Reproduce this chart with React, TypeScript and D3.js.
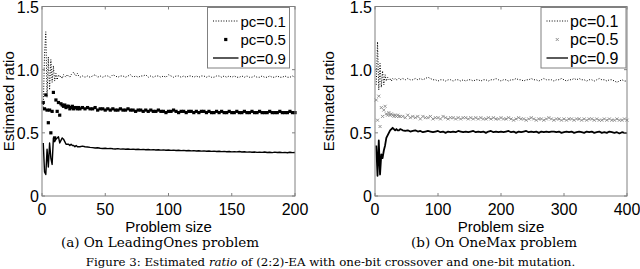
import React from "react";
import * as d3 from "d3";

// problem sizes where the estimate was recorded
const LO_SIZES = [...d3.range(1, 31), ...d3.range(32, 201, 2)];
const OM_SIZES = [...d3.range(2, 42, 2), ...d3.range(44, 401, 4)];

// (a) LeadingOnes
const LO_P01 = [
  0.70, 1.12, 1.30, 0.78, 1.10, 0.84, 1.08, 0.90, 1.03, 0.91,
  0.97, 0.92, 0.96, 0.94, 0.95, 0.93, 0.96, 0.95, 0.94, 0.96,
  0.95, 0.94, 0.96, 0.97, 0.98, 0.96, 0.95, 0.97, 0.95, 0.94,
  0.95, 0.94, 0.95, 0.94, 0.95, 0.96, 0.94, 0.95, 0.94, 0.95,
  0.95, 0.94, 0.96, 0.95, 0.94, 0.95, 0.95, 0.94, 0.95, 0.96,
  0.94, 0.95, 0.94, 0.95, 0.95, 0.96, 0.94, 0.95, 0.94, 0.95,
  0.95, 0.94, 0.95, 0.94, 0.96, 0.95, 0.94, 0.95, 0.95, 0.94,
  0.95, 0.94, 0.95, 0.95, 0.94, 0.95, 0.94, 0.95, 0.95, 0.94,
  0.95, 0.94, 0.94, 0.95, 0.95, 0.94, 0.95, 0.94, 0.95, 0.94,
  0.95, 0.94, 0.94, 0.95, 0.94, 0.95, 0.94, 0.94, 0.95, 0.94,
  0.94, 0.95, 0.94, 0.94, 0.95, 0.94, 0.94, 0.95, 0.94, 0.94,
  0.95, 0.94, 0.94, 0.95, 0.94,
];
const LO_P05 = [
  0.74, 0.69, 0.80, 0.68, 0.58, 0.68, 0.50, 0.67, 0.82, 0.46,
  0.76, 0.67, 0.74, 0.64, 0.73, 0.72, 0.71, 0.72, 0.70, 0.71,
  0.71, 0.69, 0.70, 0.71, 0.69, 0.70, 0.70, 0.69, 0.70, 0.69,
  0.70, 0.69, 0.70, 0.69, 0.69, 0.70, 0.68, 0.69, 0.69, 0.68,
  0.69, 0.68, 0.69, 0.68, 0.68, 0.69, 0.68, 0.68, 0.69, 0.68,
  0.68, 0.67, 0.68, 0.68, 0.67, 0.68, 0.67, 0.68, 0.67, 0.67,
  0.68, 0.67, 0.67, 0.66, 0.67, 0.67, 0.68, 0.67, 0.66, 0.67,
  0.67, 0.66, 0.67, 0.67, 0.66, 0.67, 0.66, 0.67, 0.67, 0.66,
  0.67, 0.66, 0.66, 0.67, 0.66, 0.67, 0.66, 0.66, 0.67, 0.66,
  0.66, 0.67, 0.66, 0.66, 0.67, 0.66, 0.66, 0.67, 0.66, 0.66,
  0.67, 0.66, 0.66, 0.66, 0.67, 0.66, 0.66, 0.66, 0.67, 0.66,
  0.66, 0.66, 0.67, 0.66, 0.66,
];
const LO_P09 = [
  0.42, 0.19, 0.17, 0.37, 0.23, 0.42, 0.30, 0.25, 0.46, 0.43,
  0.45, 0.46, 0.47, 0.42, 0.44, 0.46, 0.45, 0.43, 0.41, 0.41,
  0.41, 0.40, 0.41, 0.40, 0.40, 0.39, 0.40, 0.39, 0.39, 0.39,
  0.395, 0.39, 0.388, 0.385, 0.383, 0.38, 0.382, 0.378, 0.376, 0.378,
  0.375, 0.377, 0.374, 0.372, 0.375, 0.371, 0.373, 0.37, 0.372, 0.369,
  0.371, 0.368, 0.37, 0.367, 0.369, 0.366, 0.368, 0.365, 0.367, 0.364,
  0.366, 0.363, 0.365, 0.362, 0.364, 0.361, 0.363, 0.36, 0.362, 0.359,
  0.361, 0.358, 0.36, 0.357, 0.359, 0.356, 0.358, 0.355, 0.357, 0.354,
  0.356, 0.353, 0.355, 0.352, 0.354, 0.351, 0.353, 0.35, 0.352, 0.349,
  0.351, 0.349, 0.352, 0.348, 0.35, 0.347, 0.349, 0.346, 0.348, 0.345,
  0.347, 0.345, 0.348, 0.344, 0.346, 0.343, 0.347, 0.344, 0.346, 0.343,
  0.345, 0.342, 0.346, 0.343, 0.344,
];

// (b) OneMax
const OM_P01 = [
  0.88, 1.22, 0.84, 1.05, 0.86, 0.99, 0.88, 0.96, 0.91, 0.94,
  0.92, 0.93, 0.91, 0.93, 0.92, 0.93, 0.92, 0.92, 0.93, 0.92,
  0.93, 0.92, 0.93, 0.92, 0.92, 0.93, 0.92, 0.93, 0.92, 0.93,
  0.94, 0.93, 0.92, 0.92, 0.91, 0.92, 0.92, 0.91, 0.92, 0.92,
  0.91, 0.92, 0.92, 0.91, 0.92, 0.91, 0.92, 0.92, 0.91, 0.92,
  0.92, 0.91, 0.92, 0.92, 0.91, 0.92, 0.92, 0.93, 0.92, 0.91,
  0.92, 0.92, 0.91, 0.92, 0.92, 0.93, 0.92, 0.92, 0.91, 0.92,
  0.92, 0.93, 0.92, 0.92, 0.91, 0.92, 0.93, 0.92, 0.92, 0.92,
  0.91, 0.92, 0.92, 0.93, 0.92, 0.91, 0.92, 0.92, 0.93, 0.92,
  0.93, 0.92, 0.92, 0.91, 0.92, 0.92, 0.91, 0.92, 0.93, 0.92,
  0.92, 0.91, 0.92, 0.92, 0.91, 0.90, 0.91, 0.92, 0.91, 0.91,
];
const OM_P05 = [
  0.76, 0.60, 0.79, 0.55, 0.70, 0.63, 0.68, 0.71, 0.65, 0.64,
  0.66, 0.64, 0.65, 0.64, 0.63, 0.64, 0.63, 0.64, 0.63, 0.63,
  0.63, 0.62, 0.64, 0.62, 0.63, 0.62, 0.63, 0.61, 0.63, 0.62,
  0.62, 0.63, 0.61, 0.62, 0.62, 0.61, 0.63, 0.62, 0.61, 0.62,
  0.62, 0.61, 0.62, 0.61, 0.62, 0.62, 0.61, 0.62, 0.61, 0.62,
  0.61, 0.62, 0.61, 0.61, 0.62, 0.61, 0.62, 0.61, 0.61, 0.62,
  0.61, 0.61, 0.62, 0.61, 0.60, 0.61, 0.62, 0.61, 0.61, 0.60,
  0.61, 0.62, 0.61, 0.60, 0.61, 0.61, 0.60, 0.61, 0.62, 0.61,
  0.60, 0.61, 0.61, 0.60, 0.61, 0.60, 0.61, 0.61, 0.60, 0.61,
  0.61, 0.60, 0.61, 0.60, 0.61, 0.61, 0.60, 0.61, 0.60, 0.60,
  0.61, 0.60, 0.61, 0.60, 0.60, 0.61, 0.60, 0.60, 0.61, 0.60,
];
const OM_P09 = [
  0.40, 0.16, 0.44, 0.17, 0.33, 0.30, 0.36, 0.40, 0.46, 0.48,
  0.50, 0.52, 0.53, 0.54, 0.53, 0.52, 0.53, 0.52, 0.52, 0.53,
  0.52, 0.515, 0.52, 0.51, 0.515, 0.52, 0.51, 0.515, 0.505, 0.51,
  0.515, 0.51, 0.505, 0.51, 0.515, 0.505, 0.51, 0.50, 0.51, 0.505,
  0.51, 0.505, 0.515, 0.51, 0.505, 0.51, 0.505, 0.51, 0.515, 0.505,
  0.51, 0.505, 0.51, 0.50, 0.51, 0.515, 0.505, 0.51, 0.505, 0.51,
  0.505, 0.51, 0.515, 0.505, 0.51, 0.50, 0.51, 0.505, 0.51, 0.515,
  0.505, 0.51, 0.505, 0.51, 0.50, 0.51, 0.505, 0.51, 0.505, 0.51,
  0.51, 0.505, 0.51, 0.50, 0.505, 0.51, 0.505, 0.51, 0.50, 0.505,
  0.51, 0.505, 0.50, 0.51, 0.505, 0.51, 0.50, 0.505, 0.51, 0.50,
  0.505, 0.50, 0.51, 0.505, 0.50, 0.505, 0.495, 0.505, 0.50, 0.50,
];

const LO_XTICKS = [0, 50, 100, 150, 200];
const OM_XTICKS = [0, 100, 200, 300, 400];
const Y_TICKS = [0, 0.5, 1.0, 1.5];
const Y_TICK_LABELS = ["0", "0.5", "1.0", "1.5"];
const LEGEND_LABELS = ["pc=0.1", "pc=0.5", "pc=0.9"];

const W = 640;
const H = 269;
const TOP = 6.5;
const BOTTOM = 196;
const AXIS_COLOR = "#808080";
const SANS = "'Liberation Sans', Arial, Helvetica, sans-serif";
const SERIF = "'DejaVu Serif', serif";

interface PanelProps {
  left: number;
  right: number;
  xMax: number;
  xTicks: number[];
  sizes: number[];
  p01: number[];
  p05: number[];
  p09: number[];
  marker: "square" | "cross";
  caption: string;
  captionX: number;
  legend: { x0: number; x1: number; lineFrom: number; lineTo: number; textX: number; fontSize: number };
  yLabelX: number;
  p09Width: number;
}

const Panel: React.FC<PanelProps> = (p) => {
  const x = d3.scaleLinear().domain([0, p.xMax]).range([p.left, p.right]);
  const y = d3.scaleLinear().domain([0, 1.5]).range([BOTTOM, TOP]);
  const line = d3
    .line<number>()
    .x((_, i) => x(p.sizes[i]))
    .y((v) => y(v));
  const tk = 3;
  const legRows = [21, 39.5, 58];
  const markerColor = p.marker === "square" ? "#000" : "#888";

  const drawMarker = (cx: number, cy: number, key: React.Key) =>
    p.marker === "square" ? (
      <rect key={key} x={cx - 1.6} y={cy - 1.6} width={3.2} height={3.2} fill="#000" />
    ) : (
      <path
        key={key}
        d={`M${cx - 1.5},${cy - 1.5}L${cx + 1.5},${cy + 1.5}M${cx - 1.5},${cy + 1.5}L${cx + 1.5},${cy - 1.5}`}
        stroke={markerColor}
        strokeWidth={0.9}
        fill="none"
      />
    );

  return (
    <g>
      {/* data */}
      <path d={line(p.p01) ?? ""} fill="none" stroke="#000" strokeWidth={1} strokeDasharray="1 1.6" />
      <g>{p.p05.map((v, i) => drawMarker(x(p.sizes[i]), y(v), i))}</g>
      <path d={line(p.p09) ?? ""} fill="none" stroke="#000" strokeWidth={p.p09Width} strokeLinejoin="round" />

      {/* axes box + inward ticks */}
      <rect x={p.left} y={TOP} width={p.right - p.left} height={BOTTOM - TOP} fill="none" stroke={AXIS_COLOR} strokeWidth={1} />
      {p.xTicks.map((t) => (
        <g key={`x${t}`}>
          <line x1={x(t)} x2={x(t)} y1={BOTTOM} y2={BOTTOM - tk} stroke={AXIS_COLOR} />
          <line x1={x(t)} x2={x(t)} y1={TOP} y2={TOP + tk} stroke={AXIS_COLOR} />
          <text x={x(t)} y={BOTTOM + 18.5} textAnchor="middle" fontSize={16} fontFamily={SANS}>
            {t}
          </text>
        </g>
      ))}
      {Y_TICKS.map((t, i) => (
        <g key={`y${t}`}>
          <line x1={p.left} x2={p.left + tk} y1={y(t)} y2={y(t)} stroke={AXIS_COLOR} />
          <line x1={p.right} x2={p.right - tk} y1={y(t)} y2={y(t)} stroke={AXIS_COLOR} />
          <text x={p.left - 3} y={y(t) + 6} textAnchor="end" fontSize={16} fontFamily={SANS}>
            {Y_TICK_LABELS[i]}
          </text>
        </g>
      ))}

      {/* legend */}
      <rect
        x={p.legend.x0}
        y={TOP + 1}
        width={p.legend.x1 - p.legend.x0}
        height={68 - TOP - 1}
        fill="#fff"
        stroke={AXIS_COLOR}
      />
      <line x1={p.legend.lineFrom} x2={p.legend.lineTo} y1={legRows[0]} y2={legRows[0]} stroke="#000" strokeDasharray="1 1.6" />
      {drawMarker((p.legend.lineFrom + p.legend.lineTo) / 2, legRows[1], "leg")}
      <line x1={p.legend.lineFrom} x2={p.legend.lineTo} y1={legRows[2]} y2={legRows[2]} stroke="#000" strokeWidth={1.3} />
      {LEGEND_LABELS.map((l, i) => (
        <text key={l} x={p.legend.textX} y={legRows[i] + 5.5} fontSize={p.legend.fontSize} fontFamily={SANS}>
          {l}
        </text>
      ))}

      {/* labels */}
      <text x={(p.left + p.right) / 2} y={231.5} textAnchor="middle" fontSize={15} fontFamily={SANS}>
        Problem size
      </text>
      <text
        transform={`translate(${p.yLabelX},${(TOP + BOTTOM) / 2}) rotate(-90)`}
        textAnchor="middle"
        fontSize={15}
        fontFamily={SANS}
      >
        Estimated ratio
      </text>
      <text x={p.captionX} y={246.5} textAnchor="middle" fontSize={13.5} fontFamily={SERIF}>
        {p.caption}
      </text>
    </g>
  );
};

const App: React.FC = () => (
  <svg
    width={W}
    height={H}
    viewBox={`0 0 ${W} ${H}`}
    style={{ position: "absolute", left: 0, top: 0, background: "#fff" }}
  >
    <rect width={W} height={H} fill="#fff" />
    <Panel
      left={42}
      right={295}
      xMax={200}
      xTicks={LO_XTICKS}
      sizes={LO_SIZES}
      p01={LO_P01}
      p05={LO_P05}
      p09={LO_P09}
      marker="square"
      caption="(a) On LeadingOnes problem"
      captionX={160}
      legend={{ x0: 207.5, x1: 289.5, lineFrom: 213, lineTo: 238.5, textX: 240.5, fontSize: 15 }}
      yLabelX={13.5}
      p09Width={1.4}
    />
    <Panel
      left={375}
      right={627}
      xMax={400}
      xTicks={OM_XTICKS}
      sizes={OM_SIZES}
      p01={OM_P01}
      p05={OM_P05}
      p09={OM_P09}
      marker="cross"
      caption="(b) On OneMax problem"
      captionX={494}
      legend={{ x0: 541, x1: 626, lineFrom: 546.5, lineTo: 568, textX: 570, fontSize: 16 }}
      yLabelX={333.5}
      p09Width={1.8}
    />
    <text x={330.5} y={265.5} textAnchor="middle" fontSize={11.8} fontFamily={SERIF}>
      Figure 3: Estimated <tspan fontStyle="italic">ratio</tspan> of (2:2)-EA with one-bit crossover and one-bit mutation.
    </text>
  </svg>
);

export default App;
